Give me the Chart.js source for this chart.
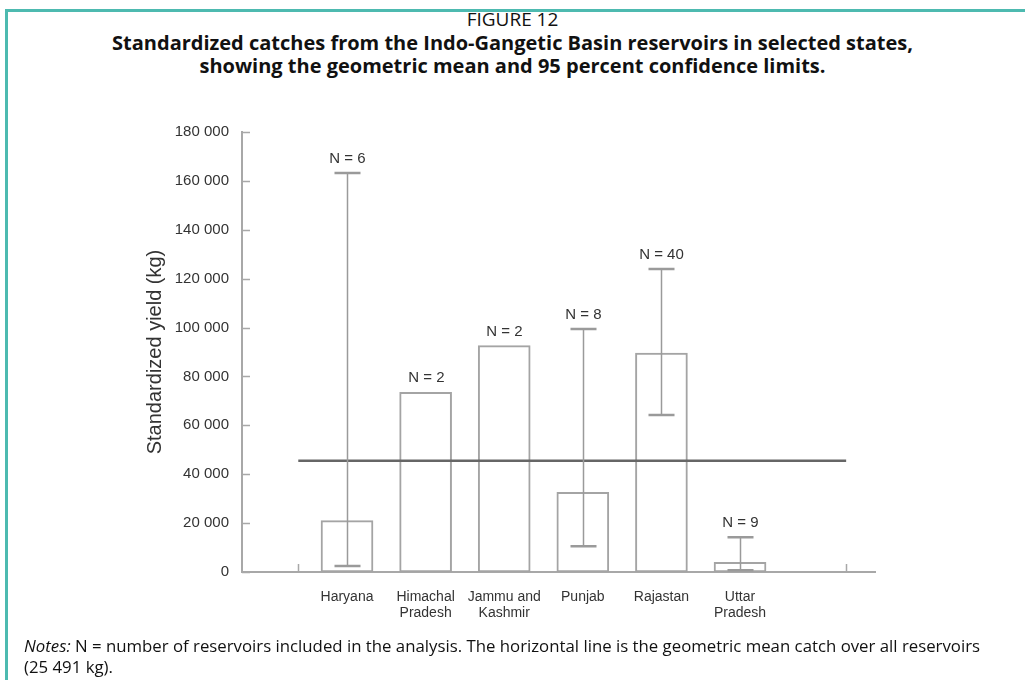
<!DOCTYPE html>
<html>
<head>
<meta charset="utf-8">
<script src="https://cdn.jsdelivr.net/npm/chart.js@4.4.1/dist/chart.umd.min.js"></script>
<style>
  html, body { margin: 0; padding: 0; background: #fff; }
  body { width: 1025px; height: 680px; position: relative; overflow: hidden; }
  #frame {
    position: absolute; left: 5px; top: 9px; right: 0; bottom: 0;
    border-top: 3px solid #4dbab0; border-left: 3px solid #4dbab0;
  }
  #chart { position: absolute; left: 0; top: 0; }
  .title { position: absolute; left: 0; width: 1025px; text-align: center; color: #111;
           font-family: "Open Sans", sans-serif; }
  #fig  { top: 6px; font-size: 19px; line-height: 26px; }
  #head { top: 31px; font-size: 20px; font-weight: bold; line-height: 23px; }
  #notes { position: absolute; left: 24px; top: 635px; width: 995px; font-family: "Open Sans", sans-serif;
           font-size: 16.8px; line-height: 21px; color: #111; white-space: nowrap; }
</style>
</head>
<body>
<div id="frame"></div>
<div class="title" id="fig">FIGURE 12</div>
<div class="title" id="head">Standardized catches from the Indo-Gangetic Basin reservoirs in selected states,<br>showing the geometric mean and 95 percent confidence limits.</div>
<canvas id="chart" width="1025" height="680"></canvas>
<div id="notes"><i>Notes:</i> N = number of reservoirs included in the analysis. The horizontal line is the geometric mean catch over all reservoirs<br>(25 491 kg).</div>
<script>
// values
const states     = ['Haryana', 'Himachal Pradesh', 'Jammu and Kashmir', 'Punjab', 'Rajastan', 'Uttar Pradesh'];
const stateLines = [['Haryana'], ['Himachal', 'Pradesh'], ['Jammu and', 'Kashmir'], ['Punjab'], ['Rajastan'], ['Uttar', 'Pradesh']];
const geoMean    = [21000, 73500, 92600, 32600, 89600, 4000];
const ciLow      = [2500, null, null, 10500, 64200, 700];
const ciHigh     = [163200, null, null, 99400, 124000, 14200];
const nCounts    = [6, 2, 2, 8, 40, 9];
const overallMean = 45500;
const yTicks     = [0, 20000, 40000, 60000, 80000, 100000, 120000, 140000, 160000, 180000];
const xEndTicks  = [0.38, 7.35];   // the two unlabeled ticks on the x axis, also the ends of the mean line

const AXIS_COLOR = '#a8a8a8';
const BAR_COLOR  = '#a4a4a4';
const ERR_COLOR  = '#9a9a9a';
const TEXT_COLOR = '#333';
const FONT       = '"Liberation Sans", Arial, sans-serif';

const fmt = v => String(v).replace(/\B(?=(\d{3})+(?!\d))/g, ' ');

// inward tick marks on both axes
const innerTicks = {
    id: 'innerTicks',
    afterDraw(chart) {
        const { ctx, scales: { x, y } } = chart;
        ctx.save();
        ctx.strokeStyle = AXIS_COLOR;
        ctx.lineWidth = 1.5;
        ctx.beginPath();
        yTicks.forEach(v => {
            const py = Math.round(y.getPixelForValue(v)) + 0.5;
            ctx.moveTo(x.left, py);
            ctx.lineTo(x.left + 8, py);
        });
        xEndTicks.forEach(v => {
            const px = Math.round(x.getPixelForValue(v)) + 0.5;
            ctx.moveTo(px, y.bottom);
            ctx.lineTo(px, y.bottom - 8);
        });
        ctx.stroke();
        ctx.restore();
    },
};

// 95% confidence limits and N labels
const errorBars = {
    id: 'errorBars',
    afterDatasetsDraw(chart) {
        const { ctx, scales: { x, y } } = chart;
        ctx.save();
        states.forEach((s, i) => {
            const px = Math.round(x.getPixelForValue(i + 1)) + 0.5;
            let top = y.getPixelForValue(geoMean[i]);
            if (ciHigh[i] !== null) {
                const yh = y.getPixelForValue(ciHigh[i]);
                const yl = y.getPixelForValue(ciLow[i]);
                ctx.strokeStyle = ERR_COLOR;
                ctx.lineWidth = 1.5;
                ctx.beginPath();
                ctx.moveTo(px, yh);
                ctx.lineTo(px, yl);
                ctx.stroke();
                ctx.lineWidth = 2.5;
                ctx.beginPath();
                ctx.moveTo(px - 13, yh); ctx.lineTo(px + 13, yh);
                ctx.moveTo(px - 13, yl); ctx.lineTo(px + 13, yl);
                ctx.stroke();
                top = Math.min(top, yh);
            }
            ctx.fillStyle = TEXT_COLOR;
            ctx.font = '15px ' + FONT;
            ctx.textAlign = 'center';
            ctx.textBaseline = 'middle';
            ctx.fillText('N = ' + nCounts[i], px, top - 14);
        });
        ctx.restore();
    },
};

new Chart(document.getElementById('chart'), {
    data: {
        datasets: [
            {
                type: 'line',
                order: 0,
                data: xEndTicks.map(v => ({ x: v, y: overallMean })),
                borderColor: '#666',
                borderWidth: 2.5,
                pointRadius: 0,
                fill: false,
            },
            {
                type: 'bar',
                order: 1,
                data: geoMean.map((v, i) => ({ x: i + 1, y: v })),
                backgroundColor: '#fff',
                borderColor: BAR_COLOR,
                borderWidth: 2,
                borderSkipped: false,
                barThickness: 52,
            },
        ],
    },
    options: {
        responsive: false,
        animation: false,
        devicePixelRatio: 1,
        layout: { padding: { left: 139, top: 132, right: 150, bottom: 0 } },
        plugins: { legend: { display: false }, tooltip: { enabled: false } },
        scales: {
            x: {
                type: 'linear',
                offset: false,
                min: -0.336,
                max: 7.717,
                grid: { display: false, drawTicks: false, offset: false },
                border: { display: true, color: AXIS_COLOR, width: 2 },
                afterBuildTicks: scale => { scale.ticks = states.map((s, i) => ({ value: i + 1 })); },
                afterFit: scale => { scale.height = 108; },
                ticks: {
                    autoSkip: false,
                    maxRotation: 0,
                    padding: 18,
                    color: TEXT_COLOR,
                    font: { family: FONT, size: 14, lineHeight: 1.08 },
                    callback: v => stateLines[v - 1],
                },
            },
            y: {
                min: 0,
                max: 180000,
                grid: { display: false, drawTicks: false },
                border: { display: true, color: AXIS_COLOR, width: 2 },
                afterBuildTicks: scale => { scale.ticks = yTicks.map(v => ({ value: v })); },
                afterFit: scale => { scale.width = 103; },
                ticks: {
                    padding: 13,
                    color: TEXT_COLOR,
                    font: { family: FONT, size: 15 },
                    callback: v => fmt(v),
                },
                title: {
                    display: true,
                    text: 'Standardized yield (kg)',
                    color: TEXT_COLOR,
                    font: { family: FONT, size: 20 },
                },
            },
        },
    },
    plugins: [innerTicks, errorBars],
});
</script>
</body>
</html>
